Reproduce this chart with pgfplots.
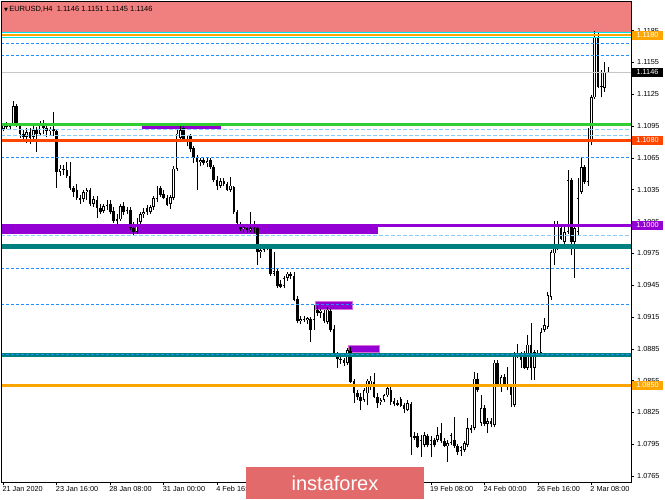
\documentclass[border=0pt]{standalone}
\usepackage{pgfplots}
\usepackage{pgfplotstable}
\pgfplotsset{compat=1.18}
\usepackage{fontspec}
\setmainfont{Liberation Sans}
\newfontfamily\dejavu{DejaVu Sans}
\definecolor{zonered}{RGB}{240,128,128}
\definecolor{mtorange}{RGB}{255,165,0}
\definecolor{mtcyan}{RGB}{0,225,230}
\definecolor{mtgreen}{RGB}{50,205,50}
\definecolor{mtorred}{RGB}{255,69,0}
\definecolor{mtpurple}{RGB}{148,0,211}
\definecolor{mtpink}{RGB}{218,112,214}
\definecolor{mtteal}{RGB}{0,128,128}
\definecolor{mtblue}{RGB}{30,144,255}
\definecolor{mtlblue}{RGB}{135,206,250}
\definecolor{wmred}{RGB}{226,106,106}

\pgfplotstableread{
i o h l c
0 1.1092 1.1097 1.1090 1.1096
1 1.1095 1.1099 1.1092 1.1094
2 1.1094 1.1098 1.1091 1.1097
3 1.1097 1.1119 1.1096 1.1114
4 1.1114 1.1116 1.1094 1.1097
5 1.1096 1.1097 1.1084 1.1088
6 1.1088 1.1091 1.1081 1.1085
7 1.1085 1.1093 1.1079 1.1089
8 1.1089 1.1093 1.1078 1.1084
9 1.1085 1.1095 1.1081 1.1091
10 1.1091 1.1094 1.1071 1.1088
11 1.1088 1.1100 1.1087 1.1097
12 1.1097 1.1101 1.1088 1.1093
13 1.1093 1.1096 1.1085 1.1090
14 1.1090 1.1094 1.1086 1.1092
15 1.1092 1.1108 1.1086 1.1090
16 1.1090 1.1092 1.1037 1.1052
17 1.1052 1.1058 1.1048 1.1055
18 1.1055 1.1058 1.1049 1.1054
19 1.1054 1.1061 1.1046 1.1048
20 1.1048 1.1061 1.1035 1.1037
21 1.1037 1.1039 1.1028 1.1033
22 1.1035 1.1040 1.1025 1.1027
23 1.1027 1.1030 1.1022 1.1025
24 1.1026 1.1035 1.1023 1.1033
25 1.1033 1.1037 1.1025 1.1035
26 1.1035 1.1037 1.1020 1.1022
27 1.1022 1.1029 1.1019 1.1026
28 1.1025 1.1029 1.1008 1.1018
29 1.1018 1.1022 1.1012 1.1014
30 1.1015 1.1022 1.1013 1.1020
31 1.1020 1.1025 1.1016 1.1022
32 1.1022 1.1025 1.1012 1.1014
33 1.1015 1.1019 1.1004 1.1006
34 1.1006 1.1012 1.1002 1.1007
35 1.1007 1.1022 1.1006 1.1020
36 1.1020 1.1023 1.1011 1.1014
37 1.1014 1.1019 1.1012 1.1016
38 1.1016 1.1019 1.0997 1.0999
39 1.0999 1.1005 1.0992 1.0995
40 1.0995 1.1008 1.0993 1.1005
41 1.1005 1.1014 1.1001 1.1012
42 1.1012 1.1018 1.1008 1.1014
43 1.1018 1.1021 1.1011 1.1014
44 1.1014 1.1021 1.1012 1.1019
45 1.1019 1.1029 1.1016 1.1027
46 1.1026 1.1039 1.1023 1.1038
47 1.1037 1.1039 1.1028 1.1030
48 1.1031 1.1035 1.1026 1.1027
49 1.1027 1.1030 1.1020 1.1021
50 1.1022 1.1030 1.1017 1.1028
51 1.1027 1.1057 1.1025 1.1055
52 1.1055 1.1092 1.1053 1.1088
53 1.1084 1.1095 1.1082 1.1091
54 1.1093 1.1096 1.1081 1.1082
55 1.1082 1.1087 1.1076 1.1080
56 1.1086 1.1088 1.1071 1.1073
57 1.1074 1.1076 1.1060 1.1065
58 1.1065 1.1068 1.1035 1.1061
59 1.1061 1.1065 1.1057 1.1063
60 1.1063 1.1065 1.1058 1.1060
61 1.1060 1.1065 1.1056 1.1062
62 1.1063 1.1065 1.1055 1.1056
63 1.1056 1.1058 1.1042 1.1044
64 1.1044 1.1048 1.1035 1.1039
65 1.1039 1.1046 1.1037 1.1043
66 1.1043 1.1046 1.1039 1.1040
67 1.1040 1.1042 1.1034 1.1035
68 1.1035 1.1047 1.1033 1.1039
69 1.1038 1.1039 1.1012 1.1014
70 1.1014 1.1016 1.1002 1.1004
71 1.1003 1.1005 1.0996 1.0998
72 1.0998 1.1001 1.0995 1.1000
73 1.0999 1.1001 1.0994 1.0997
74 1.0997 1.1014 1.0995 1.0999
75 1.0999 1.1006 1.0994 1.0998
76 1.0999 1.1001 1.0964 1.0976
77 1.0976 1.0983 1.0971 1.0978
78 1.0978 1.0983 1.0976 1.0981
79 1.0981 1.0984 1.0978 1.0980
80 1.0981 1.0984 1.0954 1.0956
81 1.0956 1.0976 1.0954 1.0958
82 1.0958 1.0961 1.0942 1.0944
83 1.0946 1.0950 1.0942 1.0943
84 1.0944 1.0954 1.0942 1.0952
85 1.0952 1.0957 1.0949 1.0956
86 1.0956 1.0957 1.0951 1.0954
87 1.0954 1.0957 1.0930 1.0931
88 1.0932 1.0935 1.0909 1.0911
89 1.0911 1.0916 1.0908 1.0913
90 1.0913 1.0916 1.0910 1.0912
91 1.0912 1.0915 1.0908 1.0914
92 1.0913 1.0915 1.0891 1.0903
93 1.0912 1.0926 1.0903 1.0923
94 1.0922 1.0925 1.0916 1.0919
95 1.0919 1.0923 1.0914 1.0921
96 1.0919 1.0922 1.0909 1.0911
97 1.0910 1.0924 1.0908 1.0922
98 1.0921 1.0923 1.0901 1.0903
99 1.0904 1.0907 1.0878 1.0880
100 1.0879 1.0882 1.0867 1.0875
101 1.0875 1.0878 1.0871 1.0874
102 1.0874 1.0876 1.0869 1.0872
103 1.0872 1.0886 1.0870 1.0884
104 1.0883 1.0887 1.0853 1.0854
105 1.0855 1.0857 1.0834 1.0843
106 1.0843 1.0846 1.0837 1.0840
107 1.0840 1.0843 1.0827 1.0836
108 1.0837 1.0848 1.0835 1.0846
109 1.0843 1.0857 1.0832 1.0855
110 1.0849 1.0859 1.0846 1.0855
111 1.0854 1.0862 1.0839 1.0840
112 1.0840 1.0843 1.0829 1.0834
113 1.0835 1.0839 1.0832 1.0837
114 1.0837 1.0842 1.0835 1.0841
115 1.0841 1.0850 1.0840 1.0848
116 1.0846 1.0849 1.0832 1.0835
117 1.0836 1.0839 1.0831 1.0833
118 1.0834 1.0837 1.0831 1.0832
119 1.0838 1.0840 1.0830 1.0831
120 1.0832 1.0834 1.0824 1.0828
121 1.0827 1.0837 1.0826 1.0834
122 1.0833 1.0835 1.0785 1.0802
123 1.0803 1.0807 1.0799 1.0801
124 1.0803 1.0806 1.0791 1.0792
125 1.0793 1.0804 1.0783 1.0799
126 1.0794 1.0807 1.0792 1.0804
127 1.0803 1.0805 1.0792 1.0794
128 1.0794 1.0803 1.0783 1.0799
129 1.0799 1.0801 1.0792 1.0794
130 1.0799 1.0811 1.0797 1.0804
131 1.0806 1.0815 1.0796 1.0798
132 1.0798 1.0801 1.0792 1.0793
133 1.0793 1.0799 1.0778 1.0796
134 1.0796 1.0806 1.0794 1.0804
135 1.0799 1.0821 1.0791 1.0793
136 1.0793 1.0795 1.0785 1.0788
137 1.0789 1.0793 1.0784 1.0792
138 1.0790 1.0798 1.0788 1.0796
139 1.0794 1.0820 1.0792 1.0810
140 1.0810 1.0813 1.0806 1.0808
141 1.0810 1.0863 1.0808 1.0857
142 1.0857 1.0862 1.0844 1.0846
143 1.0815 1.0841 1.0812 1.0829
144 1.0829 1.0832 1.0812 1.0814
145 1.0814 1.0820 1.0806 1.0817
146 1.0817 1.0820 1.0811 1.0814
147 1.0813 1.0874 1.0811 1.0872
148 1.0872 1.0874 1.0850 1.0851
149 1.0851 1.0860 1.0844 1.0858
150 1.0858 1.0861 1.0850 1.0851
151 1.0850 1.0868 1.0846 1.0849
152 1.0849 1.0851 1.0830 1.0841
153 1.0832 1.0882 1.0830 1.0881
154 1.0881 1.0890 1.0876 1.0878
155 1.0879 1.0882 1.0867 1.0874
156 1.0880 1.0883 1.0866 1.0867
157 1.0867 1.0898 1.0865 1.0889
158 1.0889 1.0909 1.0856 1.0867
159 1.0867 1.0884 1.0856 1.0882
160 1.0880 1.0884 1.0878 1.0881
161 1.0881 1.0905 1.0879 1.0901
162 1.0903 1.0914 1.0901 1.0907
163 1.0906 1.0939 1.0904 1.0936
164 1.0934 1.0978 1.0931 1.0976
165 1.0975 1.1006 1.0964 1.0981
166 1.0980 1.1006 1.0978 1.1002
167 1.0999 1.1001 1.0988 1.0989
168 1.0986 1.1002 1.0983 1.0995
169 1.0995 1.1054 1.0993 1.1044
170 1.1044 1.1046 1.0973 1.0986
171 1.0986 1.1002 1.0952 1.0999
172 1.0995 1.1046 1.0992 1.1027
173 1.1033 1.1065 1.1031 1.1056
174 1.1056 1.1058 1.1040 1.1042
175 1.1042 1.1093 1.1039 1.1082
176 1.1082 1.1124 1.1077 1.1122
177 1.1122 1.1185 1.1121 1.1179
178 1.1179 1.1184 1.1131 1.1132
179 1.1132 1.1148 1.1122 1.1133
180 1.1131 1.1155 1.1127 1.1146
181 1.1146 1.1151 1.1145 1.1146
}\candles

\begin{document}
\begin{tikzpicture}
\useasboundingbox (0,0) rectangle (665pt,499pt);
\begin{axis}[
  at={(1pt,17pt)}, anchor=south west,
  scale only axis, width=630pt, height=481pt,
  xmin=-0.7, xmax=187.9, ymin=1.07594, ymax=1.12130,
  clip mode=individual,
  axis on top,
  axis line style={black, line width=0.8pt},
  tick align=outside,
  major tick length=3pt,
  tick style={black, line width=0.6pt},
  scaled y ticks=false,
  ytick pos=right, yticklabel pos=right,
  xtick pos=bottom,
  ytick={1.0765,1.0795,1.0825,1.0855,1.0885,1.0915,1.0945,1.0975,1.1005,1.1035,1.1065,1.1095,1.1125,1.1155,1.1185},
  yticklabels={1.0765,1.0795,1.0825,1.0855,1.0885,1.0915,1.0945,1.0975,1.1005,1.1035,1.1065,1.1095,1.1125,1.1155,1.1185},
  yticklabel style={font=\fontsize{7.3}{8}\selectfont, anchor=west, inner sep=0pt, xshift=3pt},
  xtick={0,16,...,176},
  xticklabels={21 Jan 2020,23 Jan 16:00,28 Jan 08:00,31 Jan 00:00,4 Feb 16:00,,,,19 Feb 08:00,24 Feb 00:00,26 Feb 16:00,2 Mar 08:00},
  xticklabel style={font=\fontsize{7.3}{8}\selectfont, anchor=north west, inner sep=0pt, xshift=-1pt, yshift=-1pt},
]
% zones (background)
\fill[zonered] (axis cs:-0.7,1.11840) rectangle (axis cs:187.9,1.12130);
\fill[mtpurple] (axis cs:-0.7,1.09930) rectangle (axis cs:112.3,1.10024);
\fill[mtpurple] (axis cs:41.6,1.10926) rectangle (axis cs:65.3,1.10951);
\filldraw[fill=mtpurple, draw=mtpink, line width=0.6pt] (axis cs:93.4,1.09225) rectangle (axis cs:104.4,1.09301);
\filldraw[fill=mtpurple, draw=mtpink, line width=0.6pt] (axis cs:103.4,1.08813) rectangle (axis cs:112.4,1.08886);

% candles: wicks (low to high)
\addplot[black, line width=0.7pt, mark=none, quiver={u=0, v=\thisrow{h}-\thisrow{l}}]
  table[x=i, y=l] {\candles};
% bodies (open to close)
\addplot[black, line width=2.6pt, mark=none, quiver={u=0, v=\thisrow{c}-\thisrow{o}}]
  table[x=i, y=o] {\candles};
% hollow interior of rising candles
\addplot[white, line width=1.0pt, mark=none, quiver={u=0, v={max(\thisrow{c}-\thisrow{o}-0.00016,0)}}]
  table[x=i, y expr={\thisrow{o}+0.00008}] {\candles};

% horizontal lines (foreground)
\addplot[mtcyan, line width=1.2pt] coordinates {(-0.7,1.11835) (187.9,1.11835)};
\addplot[mtcyan, line width=1.2pt] coordinates {(-0.7,1.11788) (187.9,1.11788)};
\addplot[mtorange, line width=2pt] coordinates {(-0.7,1.11809) (187.9,1.11809)};
\addplot[mtblue, line width=0.6pt, dash pattern=on 3pt off 2pt] coordinates {(-0.7,1.11731) (187.9,1.11731)};
\addplot[mtblue, line width=0.6pt, dash pattern=on 3pt off 2pt] coordinates {(-0.7,1.11621) (187.9,1.11621)};
\addplot[black!22, line width=1pt] coordinates {(-0.7,1.1146) (187.9,1.1146)};
\addplot[mtgreen, line width=3pt] coordinates {(-0.7,1.10968) (187.9,1.10968)};
\addplot[mtlblue, line width=1pt, dash pattern=on 4pt off 2pt] coordinates {(-0.7,1.10920) (187.9,1.10920)};
\addplot[mtlblue, line width=1pt, dash pattern=on 4pt off 2pt] coordinates {(-0.7,1.10859) (187.9,1.10859)};
\addplot[mtorred, line width=2.5pt] coordinates {(-0.7,1.10816) (187.9,1.10816)};
\addplot[mtblue, line width=0.6pt, dash pattern=on 3pt off 2pt] coordinates {(-0.7,1.10656) (187.9,1.10656)};
\addplot[mtpurple, line width=2.5pt] coordinates {(-0.7,1.10013) (187.9,1.10013)};
\addplot[mtlblue, line width=1pt, dash pattern=on 4pt off 2pt] coordinates {(-0.7,1.09923) (187.9,1.09923)};
\addplot[mtteal, line width=5pt] coordinates {(-0.7,1.09816) (187.9,1.09816)};
\addplot[mtblue, line width=0.6pt, dash pattern=on 3pt off 2pt] coordinates {(-0.7,1.09612) (187.9,1.09612)};
\addplot[mtblue, line width=0.6pt, dash pattern=on 3pt off 2pt] coordinates {(-0.7,1.09270) (187.9,1.09270)};
\addplot[mtteal, line width=4pt] coordinates {(-0.7,1.08794) (187.9,1.08794)};
\addplot[mtblue, line width=0.6pt, dash pattern=on 3pt off 2pt] coordinates {(-0.7,1.08794) (187.9,1.08794)};
\addplot[mtorange, line width=3pt] coordinates {(-0.7,1.08505) (187.9,1.08505)};

\coordinate (L1180) at ({rel axis cs:1,0}|-{axis cs:0,1.11809});
\coordinate (L1146) at ({rel axis cs:1,0}|-{axis cs:0,1.1146});
\coordinate (L1080) at ({rel axis cs:1,0}|-{axis cs:0,1.10816});
\coordinate (L1000) at ({rel axis cs:1,0}|-{axis cs:0,1.10013});
\coordinate (L0850) at ({rel axis cs:1,0}|-{axis cs:0,1.08505});
\end{axis}

\tikzset{plab/.style={anchor=west, text=white, font=\fontsize{7.3}{8}\selectfont, inner xsep=4pt, inner ysep=0pt, minimum height=9pt, minimum width=31pt, align=left}}
\node[plab, fill=mtorange] at ([xshift=0.8pt]L1180) {1.1180};
\node[plab, fill=black] at ([xshift=0.8pt]L1146) {1.1146};
\node[plab, fill=mtorred] at ([xshift=0.8pt]L1080) {1.1080};
\node[plab, fill=mtpurple] at ([xshift=0.8pt]L1000) {1.1000};
\node[plab, fill=mtorange] at ([xshift=0.8pt]L0850) {1.0850};

% chart header
\node[anchor=west, inner sep=0pt, font=\fontsize{7.5}{8}\selectfont] at (4pt,490pt) {{\dejavu\fontsize{5}{6}\selectfont ▼}\,EURUSD,H4\ \ 1.1146 1.1151 1.1145 1.1146};

% watermark
\fill[wmred] (246pt,0pt) rectangle (424pt,32pt);
\node[text=white, inner sep=0pt, font=\fontsize{20}{20}\selectfont] at (335pt,16pt) {instaforex};
\end{tikzpicture}
\end{document}
